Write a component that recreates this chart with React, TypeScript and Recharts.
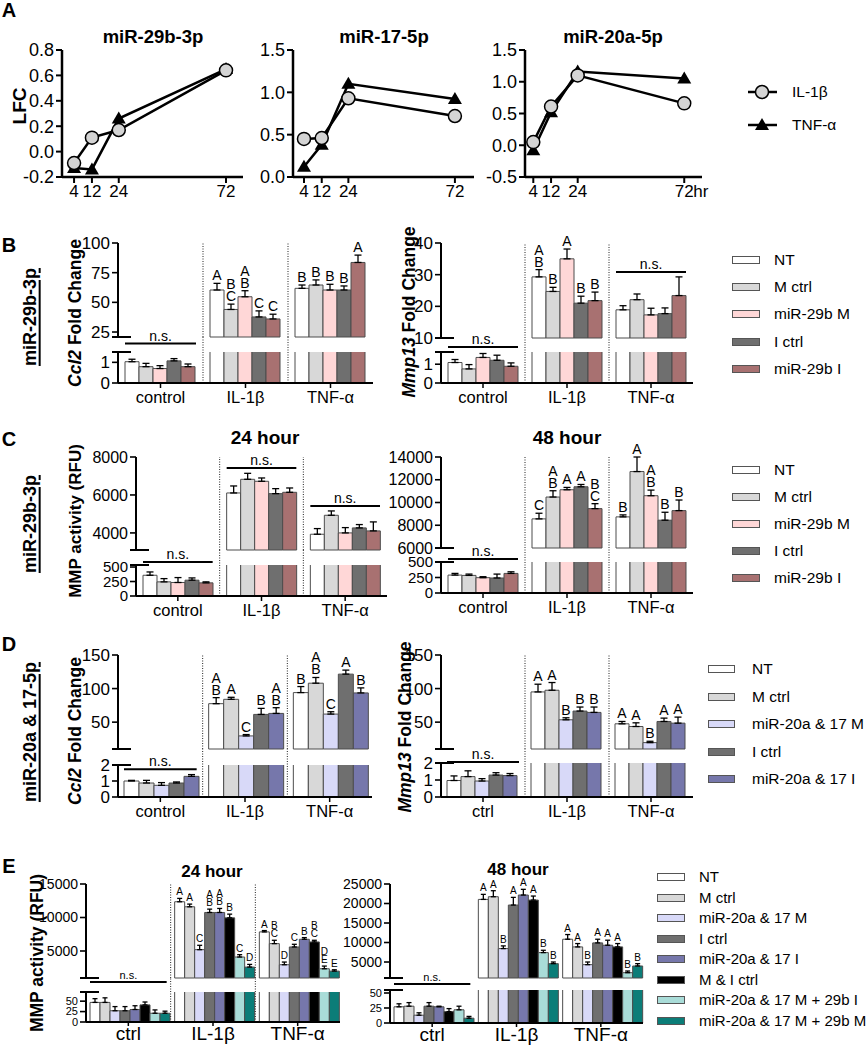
import React from 'react'
import {
  Bar,
  BarChart,
  ErrorBar,
  LabelList,
  Line,
  LineChart,
  ReferenceLine,
  XAxis,
  YAxis,
} from 'recharts'

const FONT = '"Liberation Sans", Arial, Helvetica, sans-serif'
const INK = '#000'
const BAR_EDGE = '#4d4d4d'
const CIRCLE_FILL = '#d4d4d4'

// A: log fold change vs hours after stimulation
const A_HOURS = [4, 12, 24, 72]
const A_29B_IL1B = [-0.09, 0.11, 0.17, 0.64]
const A_29B_TNF = [-0.13, -0.14, 0.26, 0.65]
const A_17_IL1B = [0.45, 0.46, 0.93, 0.72]
const A_17_TNF = [0.12, 0.38, 1.1, 0.92]
const A_20A_IL1B = [0.05, 0.61, 1.1, 0.66]
const A_20A_TNF = [-0.08, 0.52, 1.16, 1.05]

// bar chart categories
const CATS_LONG = ['control', 'IL-1β', 'TNF-α']
const CATS_SHORT = ['ctrl', 'IL-1β', 'TNF-α']

const GROUPS_29B = ['NT', 'M ctrl', 'miR-29b M', 'I ctrl', 'miR-29b I']
const GROUPS_2017 = ['NT', 'M ctrl', 'miR-20a & 17 M', 'I ctrl', 'miR-20a & 17 I']
const GROUPS_E = [
  'NT',
  'M ctrl',
  'miR-20a & 17 M',
  'I ctrl',
  'miR-20a & 17 I',
  'M & I ctrl',
  'miR-20a & 17 M + 29b I',
  'miR-20a & 17 M + 29b M',
]

const COLORS_29B = ['#ffffff', '#d8d8d8', '#ffd7d7', '#6f6f6f', '#a87171']
const COLORS_2017 = ['#ffffff', '#d8d8d8', '#d8d9f8', '#6f6f6f', '#7677ab']
const COLORS_E = ['#ffffff', '#d8d8d8', '#d8d9f8', '#6f6f6f', '#7677ab', '#000000', '#a9dcd8', '#0b7d78']

const NO5 = ['', '', '', '', '']
const NO8 = ['', '', '', '', '', '', '', '']

// B: miR-29b-3p, rows = control, IL-1β, TNF-α
const B_CCL2_MEAN = [
  [1.03, 0.79, 0.7, 1.07, 0.79],
  [60.4, 44, 54.7, 37.7, 36],
  [61.8, 64.6, 60.4, 60.4, 83.6],
]
const B_CCL2_SD = [
  [0.12, 0.16, 0.14, 0.11, 0.13],
  [5.6, 4.5, 5.1, 5.1, 4],
  [2.8, 4.3, 4.8, 3.4, 6.2],
]
const B_CCL2_SIG = [NO5, ['A', 'BC', 'AB', 'C', 'C'], ['B', 'B', 'B', 'B', 'A']]

const B_MMP13_MEAN = [
  [1.09, 0.75, 1.36, 1.21, 0.89],
  [29.3, 24.7, 35, 21, 21.8],
  [18.9, 22.1, 17.3, 17.7, 23.4],
]
const B_MMP13_SD = [
  [0.16, 0.23, 0.21, 0.27, 0.18],
  [2.3, 1.3, 3.1, 2.2, 2.7],
  [1.3, 1.8, 2.1, 1.8, 5.9],
]
const B_MMP13_SIG = [NO5, ['AB', 'B', 'A', 'B', 'B'], NO5]

// C: MMP activity, miR-29b-3p
const C24_MEAN = [
  [358, 244, 233, 273, 227],
  [6105, 6825, 6720, 6070, 6140],
  [3930, 4930, 4000, 4264, 4106],
]
const C24_SD = [
  [57, 56, 85, 39, 17],
  [369, 315, 175, 263, 228],
  [298, 228, 280, 176, 474],
]
const C48_MEAN = [
  [289, 284, 247, 242, 316],
  [8560, 10480, 11120, 11382, 9462],
  [8735, 12720, 10597, 8444, 9287],
]
const C48_SD = [
  [27, 21, 16, 63, 26],
  [495, 553, 204, 203, 436],
  [175, 1280, 493, 698, 931],
]
const C48_SIG = [NO5, ['C', 'AB', 'A', 'A', 'BC'], ['B', 'A', 'AB', 'B', 'B']]

// D: miR-20a & 17-5p
const D_CCL2_MEAN = [
  [1.0, 0.875, 0.73, 0.875, 1.29],
  [77.5, 84, 29.5, 61.5, 63],
  [94, 108, 62, 121.5, 93.5],
]
const D_CCL2_SD = [
  [0.04, 0.165, 0.17, 0.065, 0.11],
  [9, 3, 2, 9, 8.5],
  [9, 8.5, 3.5, 6, 7.5],
]
const D_CCL2_SIG = [NO5, ['AB', 'A', 'C', 'B', 'AB'], ['B', 'AB', 'C', 'A', 'B']]

const D_MMP13_MEAN = [
  [0.97, 1.2, 0.94, 1.29, 1.26],
  [95, 97.5, 53.5, 66.5, 64.5],
  [47.5, 43.5, 19.5, 51, 48.5],
]
const D_MMP13_SD = [
  [0.27, 0.34, 0.14, 0.14, 0.12],
  [11.5, 11.5, 3, 6, 8],
  [3.5, 5.5, 2, 5, 9],
]
const D_MMP13_SIG = [NO5, ['A', 'A', 'B', 'B', 'B'], ['A', 'A', 'B', 'A', 'A']]

// E: MMP activity, combined treatments
const E24_MEAN = [
  [47, 47, 27, 27, 30, 41, 21, 21],
  [12350, 11600, 5200, 10750, 10750, 9950, 4100, 2600],
  [7850, 6100, 2950, 5600, 6750, 6350, 2350, 2000],
]
const E24_SD = [
  [9, 11, 10, 10, 9, 7, 8, 5],
  [500, 400, 650, 500, 600, 550, 350, 400],
  [200, 500, 400, 400, 250, 250, 400, 200],
]
const E24_SIG = [
  NO8,
  ['A', 'A', 'C', 'AB', 'AB', 'B', 'C', 'D'],
  ['A', 'BC', 'D', 'C', 'B', 'BC', 'DE', 'E'],
]
const E48_MEAN = [
  [27, 28, 13, 28, 27, 19, 22, 8],
  [21050, 21740, 8440, 19600, 22170, 20880, 7410, 4580],
  [10840, 8870, 4320, 9900, 9300, 8870, 2260, 3980],
]
const E48_SD = [
  [5, 6, 4, 6, 1, 5, 6, 3],
  [1290, 1540, 690, 1970, 1460, 1030, 600, 420],
  [1200, 860, 680, 940, 1290, 860, 430, 600],
]
const E48_SIG = [
  NO8,
  ['A', 'A', 'B', 'A', 'A', 'A', 'B', 'B'],
  ['A', 'A', 'B', 'A', 'A', 'A', 'B', 'B'],
]

type Part = { top: number; bottom: number; domain: [number, number]; ticks: number[] }
type Ns = { cat: number; v: number; part: 'up' | 'low' }
type Look = {
  tick: number
  lowTick: number
  cat: number
  letter: number
  lh: number
  ns: number
  catTick: number
  catMargin: number
  xh: number
}

const LOOK_BCD: Look = { tick: 17, lowTick: 17, cat: 16.5, letter: 14, lh: 12, ns: 14, catTick: 5, catMargin: 3, xh: 30 }
const LOOK_C: Look = { ...LOOK_BCD, tick: 16, lowTick: 15 }
const LOOK_E: Look = { tick: 14, lowTick: 11, cat: 19, letter: 10, lh: 8.5, ns: 11, catTick: 4, catMargin: 1, xh: 30 }

const YW = 70 // y axis width
const RM = 6 // right margin
const MT = 30 // room above upper plot for letters
const MB = 12 // room below upper plot for the last tick label
const LT = 34 // room above lower plot for the gap and n.s.

const uniq = (a: number[]) => Array.from(new Set(a)).sort((p, q) => p - q)

/** y tick with optional axis-break mark */
function yTick(labels: number[], brk: number, font: number) {
  return (p: any) => {
    const v = p.payload?.value
    const x = p.x
    const y = p.y
    const lab = labels.some((t) => Math.abs(t - v) < 1e-6)
    const isBrk = Math.abs(v - brk) < 1e-6
    return (
      <g>
        {lab && <line x1={x - 6} x2={x} y1={y} y2={y} stroke={INK} strokeWidth={1.6} />}
        {isBrk && <line x1={x - 6} x2={x + 13} y1={y} y2={y} stroke={INK} strokeWidth={2} />}
        {lab && (
          <text x={x - 8} y={y} dy="0.35em" textAnchor="end" fontSize={font} fontFamily={FONT} fill={INK}>
            {v}
          </text>
        )}
      </g>
    )
  }
}

/** significance letters, stacked above the error bar */
function letterContent(font: number, lh: number, base: number) {
  return (p: any) => {
    const raw = p.value
    if (typeof raw !== 'string' || !raw) return null
    const [txt, mStr, eStr] = raw.split('|')
    const m = Number(mStr)
    const e = Number(eStr)
    const vb = p.viewBox ?? p
    const top = Math.min(vb.y, vb.y + vb.height)
    const ppu = Math.abs(vb.height) / (m - base)
    const yErr = top - e * ppu
    const cx = vb.x + vb.width / 2
    const lines = txt.split('')
    return (
      <g>
        {lines.map((ch, k) => (
          <text
            key={k}
            x={cx}
            y={yErr - 3 - (lines.length - 1 - k) * lh}
            textAnchor="middle"
            fontSize={font}
            fontFamily={FONT}
            fill={INK}
          >
            {ch}
          </text>
        ))}
      </g>
    )
  }
}

/** "n.s." bar spanning one category group, centred on the category */
function nsShape(halfSpan: number, font: number) {
  return (p: any) => {
    const cx = (p.x1 + p.x2) / 2
    const y = p.y1
    return (
      <g>
        <line x1={cx - halfSpan} x2={cx + halfSpan} y1={y} y2={y} stroke={INK} strokeWidth={2} />
        <text x={cx} y={y - 3} textAnchor="middle" fontSize={font} fontFamily={FONT} fill={INK}>
          n.s.
        </text>
      </g>
    )
  }
}

function BrokenBars({
  x0,
  w,
  up,
  low,
  cats,
  colors,
  mean,
  sd,
  letters,
  ns = [],
  dividers = true,
  gap,
  cap,
  look,
}: {
  x0: number
  w: number
  up: Part
  low: Part
  cats: string[]
  colors: string[]
  mean: number[][]
  sd: number[][]
  letters?: string[][]
  ns?: Ns[]
  dividers?: boolean
  gap: number
  cap: number
  look: Look
}) {
  const n = colors.length
  const hi = (ci: number, si: number) => mean[ci][si] > low.domain[1]
  const upRows = cats.map((c, ci) => {
    const r: Record<string, unknown> = { cat: c }
    for (let si = 0; si < n; si++) {
      const h = hi(ci, si)
      const l = letters?.[ci]?.[si]
      r['m' + si] = h ? mean[ci][si] : null
      r['e' + si] = h ? [0, sd[ci][si]] : null
      r['l' + si] = h && l ? `${l}|${mean[ci][si]}|${sd[ci][si]}` : ''
    }
    return r
  })
  const lowRows = cats.map((c, ci) => {
    const r: Record<string, unknown> = { cat: c }
    for (let si = 0; si < n; si++) {
      r['m' + si] = mean[ci][si]
      r['e' + si] = hi(ci, si) ? null : [0, sd[ci][si]]
    }
    return r
  })
  const halfSpan = w / cats.length / 2 - gap
  const upH = up.bottom - up.top
  const lowH = low.bottom - low.top
  const lowPpu = lowH / (low.domain[1] - low.domain[0])
  const gapUnits = (low.top - up.bottom) / lowPpu
  const svgW = YW + w + RM

  const nsLine = (m: Ns, i: number) => (
    <ReferenceLine
      key={'ns' + i}
      xAxisId="cat"
      segment={[
        { x: cats[m.cat], y: m.v },
        { x: cats[m.cat], y: m.v },
      ]}
      ifOverflow="visible"
      shape={nsShape(halfSpan, look.ns)}
    />
  )

  return (
    <>
      <div style={{ position: 'absolute', left: x0 - YW, top: up.top - MT }}>
        <BarChart
          width={svgW}
          height={MT + upH + MB}
          data={upRows}
          margin={{ top: MT, right: RM, left: 0, bottom: MB }}
          barCategoryGap={gap}
          barGap={0}
        >
          <XAxis xAxisId="cat" dataKey="cat" hide />
          <YAxis
            type="number"
            domain={up.domain}
            ticks={uniq([up.domain[0], ...up.ticks])}
            interval={0}
            width={YW}
            tickSize={0}
            tickMargin={0}
            tickLine={false}
            axisLine={{ stroke: INK, strokeWidth: 2 }}
            tick={yTick(up.ticks, up.domain[0], look.tick)}
          />
          {dividers &&
            cats.slice(1).map((c) => (
              <ReferenceLine
                key={'d' + c}
                xAxisId="cat"
                x={c}
                position="start"
                stroke="#222"
                strokeWidth={1}
                strokeDasharray="1 1.5"
              />
            ))}
          {colors.map((c, si) => (
            <Bar
              key={si}
              xAxisId="cat"
              dataKey={'m' + si}
              fill={c}
              stroke={BAR_EDGE}
              strokeWidth={1}
              isAnimationActive={false}
            >
              <ErrorBar dataKey={'e' + si} width={cap} stroke={INK} strokeWidth={1.3} direction="y" />
              <LabelList dataKey={'l' + si} content={letterContent(look.letter, look.lh, up.domain[0])} />
            </Bar>
          ))}
          {ns.filter((m) => m.part === 'up').map(nsLine)}
        </BarChart>
      </div>
      <div style={{ position: 'absolute', left: x0 - YW, top: low.top - LT }}>
        <BarChart
          width={svgW}
          height={LT + lowH + look.xh}
          data={lowRows}
          margin={{ top: LT, right: RM, left: 0, bottom: 0 }}
          barCategoryGap={gap}
          barGap={0}
        >
          <XAxis
            xAxisId="cat"
            dataKey="cat"
            height={look.xh}
            interval={0}
            tickSize={look.catTick}
            tickMargin={look.catMargin}
            tick={{ fontSize: look.cat, fill: INK, fontFamily: FONT }}
            tickLine={{ stroke: INK, strokeWidth: 1.5 }}
            axisLine={{ stroke: INK, strokeWidth: 2 }}
          />
          <YAxis
            type="number"
            domain={low.domain}
            allowDataOverflow
            ticks={uniq([...low.ticks, low.domain[1]])}
            interval={0}
            width={YW}
            tickSize={0}
            tickMargin={0}
            tickLine={false}
            axisLine={{ stroke: INK, strokeWidth: 2 }}
            tick={yTick(low.ticks, low.domain[1], look.lowTick)}
          />
          {dividers &&
            cats.slice(1).map((c) => (
              <ReferenceLine
                key={'d' + c}
                xAxisId="cat"
                position="start"
                segment={[
                  { x: c, y: low.domain[0] },
                  { x: c, y: low.domain[1] + gapUnits },
                ]}
                ifOverflow="visible"
                stroke="#222"
                strokeWidth={1}
                strokeDasharray="1 1.5"
              />
            ))}
          {colors.map((c, si) => (
            <Bar
              key={si}
              xAxisId="cat"
              dataKey={'m' + si}
              fill={c}
              stroke={BAR_EDGE}
              strokeWidth={1}
              isAnimationActive={false}
            >
              <ErrorBar dataKey={'e' + si} width={cap} stroke={INK} strokeWidth={1.3} direction="y" />
            </Bar>
          ))}
          {ns.filter((m) => m.part === 'low').map(nsLine)}
        </BarChart>
      </div>
    </>
  )
}

const YW_A = 55

function Circle({ cx, cy, r = 6.5 }: { cx: number; cy: number; r?: number }) {
  return <circle cx={cx} cy={cy} r={r} fill={CIRCLE_FILL} stroke={INK} strokeWidth={1.5} />
}

function Tri({ cx, cy }: { cx: number; cy: number }) {
  return <path d={`M${cx},${cy - 7} L${cx + 7},${cy + 5} L${cx - 7},${cy + 5} Z`} fill={INK} />
}

function LfcChart({
  x0,
  w,
  xDomain,
  yDomain,
  yTicks,
  il,
  tnf,
  hr = false,
}: {
  x0: number
  w: number
  xDomain: [number, number]
  yDomain: [number, number]
  yTicks: number[]
  il: number[]
  tnf: number[]
  hr?: boolean
}) {
  const rows = A_HOURS.map((h, i) => ({ h, il: il[i], tnf: tnf[i] }))
  const T = 12
  const xh = 30
  return (
    <div style={{ position: 'absolute', left: x0 - YW_A, top: 50 - T }}>
      <LineChart width={YW_A + w + 30} height={T + 127 + xh} data={rows} margin={{ top: T, right: 30, left: 0, bottom: 0 }}>
        <XAxis
          dataKey="h"
          type="number"
          domain={xDomain}
          ticks={A_HOURS}
          interval={0}
          height={xh}
          tickSize={6}
          tickMargin={2}
          axisLine={{ stroke: INK, strokeWidth: 2.5 }}
          tickLine={{ stroke: INK, strokeWidth: 2 }}
          tick={(p: any) => (
            <g>
              <text x={p.x} y={p.y} dy="0.71em" textAnchor="middle" fontSize={17} fontFamily={FONT} fill={INK}>
                {p.payload.value}
              </text>
              {hr && p.payload.value === 72 && (
                <text x={p.x + 9} y={p.y} dy="0.71em" textAnchor="start" fontSize={17} fontFamily={FONT} fill={INK}>
                  hr
                </text>
              )}
            </g>
          )}
        />
        <YAxis
          type="number"
          domain={yDomain}
          ticks={yTicks}
          interval={0}
          width={YW_A}
          tickSize={6}
          tickMargin={2}
          axisLine={{ stroke: INK, strokeWidth: 2.5 }}
          tickLine={{ stroke: INK, strokeWidth: 2 }}
          tick={{ fontSize: 18, fill: INK, fontFamily: FONT }}
          tickFormatter={(v: number) => v.toFixed(1)}
        />
        <Line
          dataKey="tnf"
          stroke={INK}
          strokeWidth={2.5}
          isAnimationActive={false}
          dot={(p: any) => <Tri key={'t' + p.index} cx={p.cx} cy={p.cy} />}
        />
        <Line
          dataKey="il"
          stroke={INK}
          strokeWidth={2.5}
          isAnimationActive={false}
          dot={(p: any) => <Circle key={'c' + p.index} cx={p.cx} cy={p.cy} />}
        />
      </LineChart>
    </div>
  )
}

function LfcLegend() {
  return (
    <svg style={{ position: 'absolute', left: 740, top: 75 }} width={120} height={70}>
      <line x1={8} x2={37} y1={17} y2={17} stroke={INK} strokeWidth={2.5} />
      <Circle cx={22} cy={17} />
      <text x={52} y={17} dy="0.35em" fontSize={15.5} fontFamily={FONT} fill={INK}>
        IL-1β
      </text>
      <line x1={8} x2={37} y1={50} y2={50} stroke={INK} strokeWidth={2.5} />
      <Tri cx={22} cy={50} />
      <text x={52} y={50} dy="0.35em" fontSize={15.5} fontFamily={FONT} fill={INK}>
        TNF-α
      </text>
    </svg>
  )
}

function SwatchLegend({
  x,
  tx,
  y0,
  dy,
  labels,
  colors,
  size = 15.5,
  sw = 28,
}: {
  x: number
  tx: number
  y0: number
  dy: number
  labels: string[]
  colors: string[]
  size?: number
  sw?: number
}) {
  return (
    <>
      {labels.map((l, i) => (
        <React.Fragment key={l}>
          <div
            style={{
              position: 'absolute',
              left: x,
              top: y0 + i * dy - 4,
              width: sw,
              height: 8,
              background: colors[i],
              border: '1px solid #555',
              boxSizing: 'border-box',
            }}
          />
          <div
            style={{
              position: 'absolute',
              left: tx,
              top: y0 + i * dy,
              transform: 'translateY(-50%)',
              fontSize: size,
              lineHeight: 1.15,
              whiteSpace: 'nowrap',
            }}
          >
            {l}
          </div>
        </React.Fragment>
      ))}
    </>
  )
}

function Txt({
  x,
  y,
  size,
  bold = false,
  rotate = false,
  underline = false,
  children,
}: {
  x: number
  y: number
  size: number
  bold?: boolean
  rotate?: boolean
  underline?: boolean
  children: React.ReactNode
}) {
  return (
    <div
      style={{
        position: 'absolute',
        left: x,
        top: y,
        transform: `translate(-50%, -50%)${rotate ? ' rotate(-90deg)' : ''}`,
        fontSize: size,
        fontWeight: bold ? 700 : 400,
        lineHeight: 1.15,
        whiteSpace: 'nowrap',
        textDecoration: underline ? 'underline' : 'none',
        textDecorationThickness: underline ? 1.5 : undefined,
        textUnderlineOffset: underline ? 3 : undefined,
      }}
    >
      {children}
    </div>
  )
}

const Ital = ({ children }: { children: React.ReactNode }) => <span style={{ fontStyle: 'italic' }}>{children}</span>

export default function App() {
  return (
    <div
      style={{
        position: 'absolute',
        left: 0,
        top: 0,
        width: 868,
        height: 1050,
        background: '#fff',
        fontFamily: FONT,
        color: INK,
        overflow: 'hidden',
      }}
    >
      {/* A */}
      <LfcChart x0={62} w={181} xDomain={[-1.4, 79.6]} yDomain={[-0.2, 0.8]} yTicks={[-0.2, 0, 0.2, 0.4, 0.6, 0.8]} il={A_29B_IL1B} tnf={A_29B_TNF} />
      <LfcChart x0={293} w={181} xDomain={[-0.95, 80.6]} yDomain={[0, 1.5]} yTicks={[0, 0.5, 1, 1.5]} il={A_17_IL1B} tnf={A_17_TNF} />
      <LfcChart x0={525} w={177} xDomain={[0.26, 80]} yDomain={[-0.5, 1.5]} yTicks={[-0.5, 0, 0.5, 1, 1.5]} il={A_20A_IL1B} tnf={A_20A_TNF} hr />
      <LfcLegend />
      <Txt x={9} y={10} size={20} bold>A</Txt>
      <Txt x={153} y={37} size={18.5} bold>miR-29b-3p</Txt>
      <Txt x={384} y={37} size={18.5} bold>miR-17-5p</Txt>
      <Txt x={613} y={37} size={18.5} bold>miR-20a-5p</Txt>
      <Txt x={20} y={106} size={19} bold rotate>LFC</Txt>

      {/* B */}
      <BrokenBars
        x0={118}
        w={255}
        up={{ top: 243, bottom: 337, domain: [20.8, 100], ticks: [25, 50, 75, 100] }}
        low={{ top: 352, bottom: 383, domain: [0, 1.5], ticks: [0, 1] }}
        cats={CATS_LONG}
        colors={COLORS_29B}
        mean={B_CCL2_MEAN}
        sd={B_CCL2_SD}
        letters={B_CCL2_SIG}
        ns={[{ cat: 0, v: 1.91, part: 'low' }]}
        gap={7}
        cap={3.5}
        look={LOOK_BCD}
      />
      <BrokenBars
        x0={441}
        w={252}
        up={{ top: 243, bottom: 338, domain: [10, 40], ticks: [10, 20, 30, 40] }}
        low={{ top: 352, bottom: 383, domain: [0, 1.65], ticks: [0, 1] }}
        cats={CATS_LONG}
        colors={COLORS_29B}
        mean={B_MMP13_MEAN}
        sd={B_MMP13_SD}
        letters={B_MMP13_SIG}
        ns={[
          { cat: 0, v: 1.91, part: 'low' },
          { cat: 2, v: 30.85, part: 'up' },
        ]}
        gap={7}
        cap={3.5}
        look={LOOK_BCD}
      />
      <SwatchLegend x={732} tx={774} y0={260} dy={27.2} labels={GROUPS_29B} colors={COLORS_29B} />
      <Txt x={9} y={245} size={20} bold>B</Txt>
      <Txt x={30} y={317} size={18} bold rotate underline>miR-29b-3p</Txt>
      <Txt x={75} y={313} size={17.5} bold rotate>
        <Ital>Ccl2</Ital> Fold Change
      </Txt>
      <Txt x={409} y={312} size={17.5} bold rotate>
        <Ital>Mmp13</Ital> Fold Change
      </Txt>

      {/* C */}
      <BrokenBars
        x0={136}
        w={251}
        up={{ top: 457, bottom: 550, domain: [3100, 8000], ticks: [4000, 6000, 8000] }}
        low={{ top: 565, bottom: 596, domain: [0, 535], ticks: [0, 250, 500] }}
        cats={CATS_LONG}
        colors={COLORS_29B}
        mean={C24_MEAN}
        sd={C24_SD}
        ns={[
          { cat: 0, v: 586, part: 'low' },
          { cat: 1, v: 7421, part: 'up' },
          { cat: 2, v: 5421, part: 'up' },
        ]}
        gap={7}
        cap={3.5}
        look={LOOK_C}
      />
      <BrokenBars
        x0={441}
        w={252}
        up={{ top: 457, bottom: 548, domain: [6000, 14000], ticks: [6000, 8000, 10000, 12000, 14000] }}
        low={{ top: 562, bottom: 593, domain: [0, 500], ticks: [0, 250, 500] }}
        cats={CATS_LONG}
        colors={COLORS_29B}
        mean={C48_MEAN}
        sd={C48_SD}
        letters={C48_SIG}
        ns={[{ cat: 0, v: 548, part: 'low' }]}
        gap={7}
        cap={3.5}
        look={LOOK_C}
      />
      <SwatchLegend x={732} tx={774} y0={470} dy={27} labels={GROUPS_29B} colors={COLORS_29B} />
      <Txt x={9} y={439} size={20} bold>C</Txt>
      <Txt x={265} y={438} size={19} bold>24 hour</Txt>
      <Txt x={567} y={438} size={19} bold>48 hour</Txt>
      <Txt x={30} y={524} size={18} bold rotate underline>miR-29b-3p</Txt>
      <Txt x={76} y={521} size={17} bold rotate>MMP activity (RFU)</Txt>

      {/* D */}
      <BrokenBars
        x0={118}
        w={254}
        up={{ top: 655, bottom: 749, domain: [10, 150], ticks: [50, 100, 150] }}
        low={{ top: 765, bottom: 797, domain: [0, 2], ticks: [0, 1, 2] }}
        cats={CATS_LONG}
        colors={COLORS_2017}
        mean={D_CCL2_MEAN}
        sd={D_CCL2_SD}
        letters={D_CCL2_SIG}
        ns={[{ cat: 0, v: 1.73, part: 'low' }]}
        gap={6}
        cap={3.5}
        look={LOOK_BCD}
      />
      <BrokenBars
        x0={441}
        w={252}
        up={{ top: 655, bottom: 749, domain: [10, 150], ticks: [50, 100, 150] }}
        low={{ top: 763, bottom: 797, domain: [0, 2], ticks: [0, 1, 2] }}
        cats={CATS_SHORT}
        colors={COLORS_2017}
        mean={D_MMP13_MEAN}
        sd={D_MMP13_SD}
        letters={D_MMP13_SIG}
        ns={[{ cat: 0, v: 2.06, part: 'low' }]}
        gap={6}
        cap={3.5}
        look={LOOK_BCD}
      />
      <SwatchLegend x={708} tx={752} y0={669} dy={27.5} sw={27} labels={GROUPS_2017} colors={COLORS_2017} />
      <Txt x={9} y={644} size={20} bold>D</Txt>
      <Txt x={30} y={732} size={18} bold rotate underline>miR-20a &amp; 17-5p</Txt>
      <Txt x={75} y={731} size={17.5} bold rotate>
        <Ital>Ccl2</Ital> Fold Change
      </Txt>
      <Txt x={405} y={727} size={17.5} bold rotate>
        <Ital>Mmp13</Ital> Fold Change
      </Txt>

      {/* E */}
      <BrokenBars
        x0={86}
        w={254}
        up={{ top: 884, bottom: 978, domain: [970, 15000], ticks: [5000, 10000, 15000] }}
        low={{ top: 992, bottom: 1022, domain: [0, 72], ticks: [0, 25, 50] }}
        cats={CATS_SHORT}
        colors={COLORS_E}
        mean={E24_MEAN}
        sd={E24_SD}
        letters={E24_SIG}
        ns={[{ cat: 0, v: 96, part: 'low' }]}
        gap={4}
        cap={2.5}
        look={LOOK_E}
      />
      <BrokenBars
        x0={390}
        w={253}
        up={{ top: 884, bottom: 978, domain: [900, 25000], ticks: [5000, 10000, 15000, 20000, 25000] }}
        low={{ top: 990, bottom: 1023, domain: [0, 55], ticks: [0, 25, 50] }}
        cats={CATS_SHORT}
        colors={COLORS_E}
        mean={E48_MEAN}
        sd={E48_SD}
        letters={E48_SIG}
        ns={[{ cat: 0, v: 65, part: 'low' }]}
        dividers={false}
        gap={4}
        cap={2.5}
        look={LOOK_E}
      />
      <SwatchLegend x={657} tx={699} y0={877} dy={20.5} size={15} labels={GROUPS_E} colors={COLORS_E} />
      <Txt x={9} y={866} size={20} bold>E</Txt>
      <Txt x={212} y={872} size={17} bold>24 hour</Txt>
      <Txt x={518} y={870} size={17} bold>48 hour</Txt>
      <Txt x={37} y={953} size={17.5} bold rotate>MMP activity (RFU)</Txt>
    </div>
  )
}
